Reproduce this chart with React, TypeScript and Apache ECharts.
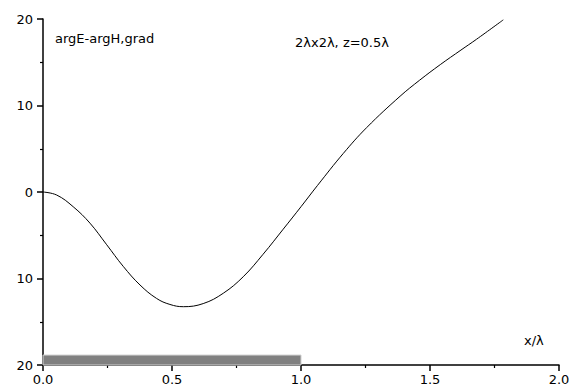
import React, { useEffect, useRef } from "react";
import * as echarts from "echarts";

const xValues = [0, 0.053, 0.117, 0.182, 0.247, 0.311, 0.376, 0.44, 0.492, 0.544, 0.621, 0.699, 0.776, 0.853, 0.931, 1.0, 1.064, 1.164, 1.255, 1.384, 1.46, 1.54, 1.62, 1.68, 1.784];
const yValues = [0, -0.35, -1.7, -3.6, -6.1, -8.6, -10.75, -12.3, -13.0, -13.26, -12.9, -11.7, -9.8, -7.2, -4.3, -1.7, 0.76, 4.46, 7.46, 11.07, 12.93, 14.73, 16.41, 17.65, 19.9];
const barRange = [0, 1.0];
const barTop = -18.85;
const xTicks = [0, 0.5, 1.0, 1.5, 2.0];
const yTicks = [-20, -10, 0, 10, 20];
const leftLabel = "argE-argH,grad";
const rightLabel = "2λx2λ, z=0.5λ";
const xName = "x/λ";

const FONT = "DejaVu Sans";

export default function App() {
  const ref = useRef<HTMLDivElement>(null);
  useEffect(() => {
    if (!ref.current) return;
    const chart = echarts.init(ref.current, null, { renderer: "svg" });
    const data = xValues.map((x, i) => [x, yValues[i]]);
    chart.setOption({
      animation: false,
      backgroundColor: "#ffffff",
      grid: { left: 43, right: 15, top: 19, bottom: 24, containLabel: false },
      xAxis: {
        type: "value",
        min: xTicks[0],
        max: xTicks[xTicks.length - 1],
        interval: 0.5,
        axisLine: { show: true, onZero: false, lineStyle: { color: "#000", width: 1.5 } },
        axisTick: { show: true, length: 6, lineStyle: { color: "#000", width: 1.5 } },
        minorTick: { show: true, splitNumber: 2, length: 3, lineStyle: { color: "#000", width: 1.2 } },
        splitLine: { show: false },
        axisLabel: {
          color: "#000",
          fontFamily: FONT,
          fontSize: 13,
          margin: 8,
          formatter: (v: number) => v.toFixed(1),
        },
      },
      yAxis: {
        type: "value",
        min: yTicks[0],
        max: yTicks[yTicks.length - 1],
        interval: 10,
        axisLine: { show: true, onZero: false, lineStyle: { color: "#000", width: 1.5 } },
        axisTick: { show: true, length: 6, lineStyle: { color: "#000", width: 1.5 } },
        minorTick: { show: true, splitNumber: 2, length: 3, lineStyle: { color: "#000", width: 1.2 } },
        splitLine: { show: false },
        axisLabel: {
          color: "#000",
          fontFamily: FONT,
          fontSize: 13,
          margin: 10,
          formatter: (v: number) => String(Math.abs(v)),
        },
      },
      series: [
        {
          type: "line",
          data,
          smooth: 0.4,
          showSymbol: false,
          lineStyle: { color: "#000", width: 1 },
          markArea: {
            silent: true,
            itemStyle: { color: "#808080", borderColor: "#d0d0d0", borderWidth: 1 },
            data: [[{ coord: [barRange[0], yTicks[0]] }, { coord: [barRange[1], barTop] }]],
          },
          z: 3,
        },
      ],
      graphic: [
        {
          type: "text",
          left: 55,
          top: 32,
          style: { text: leftLabel, fill: "#000", font: `13px "${FONT}"` },
        },
        {
          type: "text",
          left: 295,
          top: 36,
          style: { text: rightLabel, fill: "#000", font: `13px "${FONT}"` },
        },
        {
          type: "text",
          left: 524,
          top: 334,
          style: { text: xName, fill: "#000", font: `13px "${FONT}"` },
        },
      ],
    });
    return () => chart.dispose();
  }, []);
  return (
    <div
      ref={ref}
      style={{ position: "fixed", left: 0, top: 0, width: 574, height: 389 }}
    />
  );
}
